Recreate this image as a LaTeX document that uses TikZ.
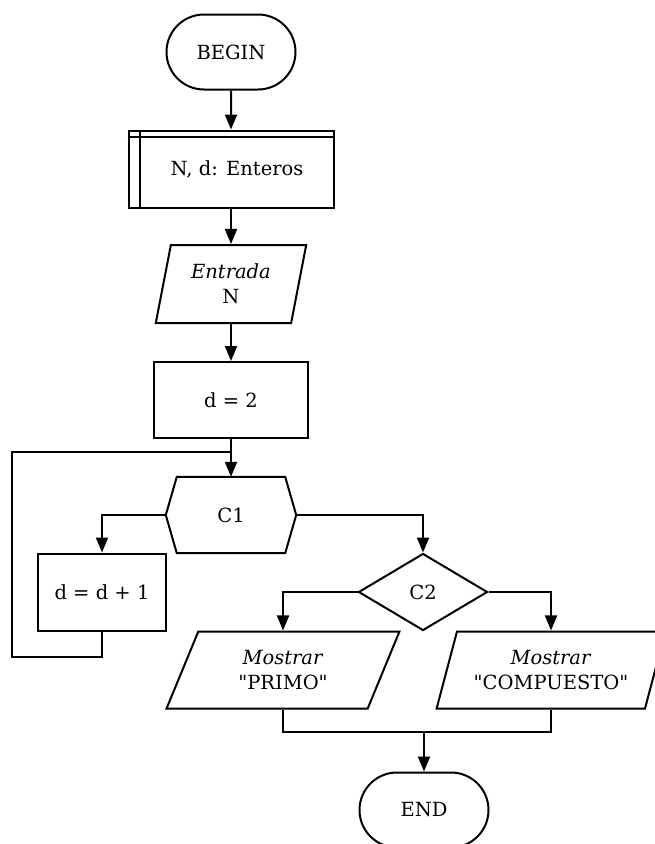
\documentclass[tikz,border=0pt]{standalone}
\usepackage{fontspec}
\setmainfont{DejaVu Serif}
\usetikzlibrary{shapes.geometric,shapes.misc,arrows.meta}
\begin{document}
\begin{tikzpicture}[x=1pt,y=-1pt,
  every node/.style={font=\fontsize{19.5}{25}\selectfont, align=center, inner sep=0pt},
  ln/.style={line width=2pt},
  arr/.style={ln, -{Triangle[length=15pt,width=12pt]}},
  terminal/.style={ln, draw, rounded rectangle, minimum width=129pt, minimum height=75pt},
  procbox/.style={ln, draw, rectangle, minimum width=#1, minimum height=76pt},
  iobox/.style={ln, draw, trapezium, trapezium stretches=true,
    trapezium left angle=#1, trapezium right angle=180-#1},
  decision/.style={ln, draw, diamond, minimum width=129pt, minimum height=77pt},
  plain/.style={minimum width=#1, minimum height=76pt}]
\useasboundingbox (0,0) rectangle (655,844);

% main column
\node[terminal] (begin) at (231,52) {BEGIN};
\node[procbox=205pt, minimum height=77pt] (decl) at (231,169) {\hspace*{12pt}N, d: Enteros};
\draw[ln] ([xshift=12pt]decl.north west) -- ([xshift=12pt]decl.south west);
\draw[ln] ([yshift=-7pt]decl.north west) -- ([yshift=-7pt]decl.north east);
\node[iobox=76, minimum width=151pt, minimum height=78pt] (input) at (231,284)
  {\textit{Entrada}\\N};
\node[procbox=154pt] (init) at (231,400) {d = 2};

% condition C1 (hexagon)
\node[plain=130pt] (c1) at (231,515) {C1};
\draw[ln] ([xshift=11pt]c1.north west) -- ([xshift=-11pt]c1.north east) -- (c1.east)
  -- ([xshift=-11pt]c1.south east) -- ([xshift=11pt]c1.south west) -- (c1.west) -- cycle;

\node[procbox=128pt, minimum height=77pt] (inc) at (102,592) {d = d + 1};
\node[decision] (c2) at (423,592) {C2};
\node[iobox=67, minimum width=233pt, minimum height=77pt] (prime) at (283,670)
  {\textit{Mostrar}\\\textquotedbl PRIMO\textquotedbl};
\node[iobox=67, minimum width=229pt, minimum height=77pt] (comp) at (551,670)
  {\textit{Mostrar}\\\textquotedbl COMPUESTO\textquotedbl};
\node[terminal] (end) at (424,810) {END};

% connectors
\coordinate (join) at (231,452);
\coordinate (loop) at (12,657);
\coordinate (merge) at (424,732);
\draw[arr] (begin) -- (decl);
\draw[arr] (decl) -- (input);
\draw[arr] (input) -- (init);
\draw[arr] (init) -- (c1);
\draw[ln] (inc.south) |- (loop) |- (join);
\draw[arr] (c1.west) -| (inc.north);
\draw[arr] (c1.east) -| (c2.north);
\draw[arr] (c2.west) -| (prime.north);
\draw[arr] (c2.east) -| (comp.north);
\draw[ln] (prime.south) |- (merge);
\draw[ln] (comp.south) |- (merge);
\draw[arr] (merge) -- (end);
\end{tikzpicture}
\end{document}
